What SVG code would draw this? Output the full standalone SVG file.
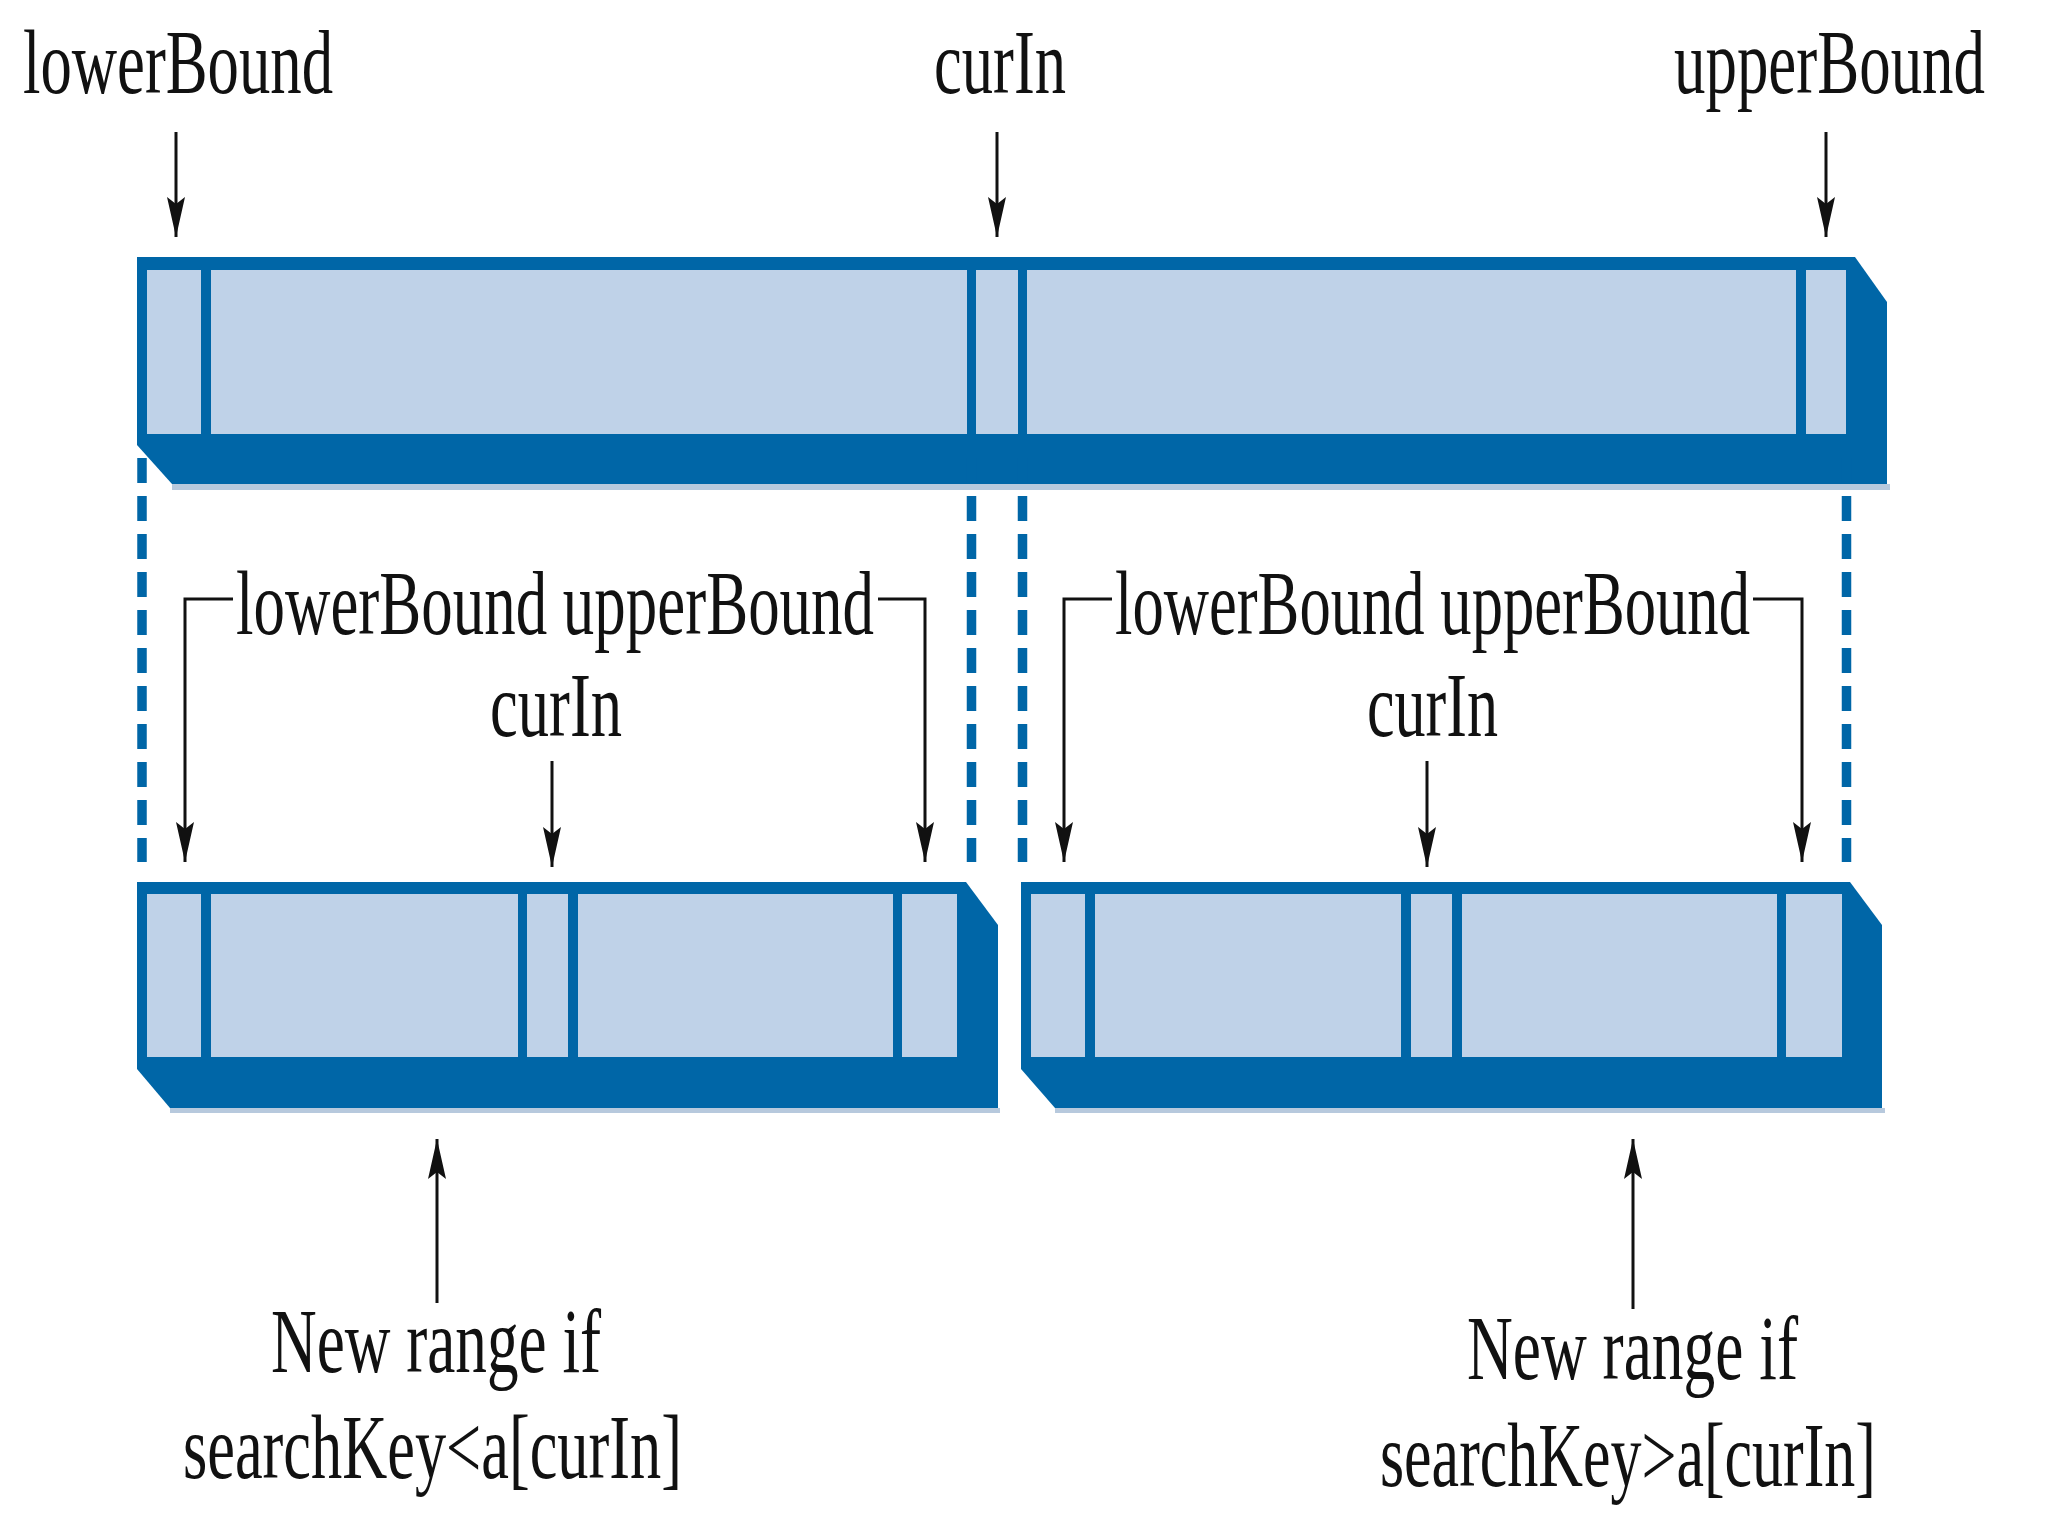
<svg xmlns="http://www.w3.org/2000/svg" width="2048" height="1536" viewBox="0 0 2048 1536">
<style>
  .frame { fill: #0066A7; }
  .cell { fill: #BFD2E8; }
  .edge { fill: #B7C9DD; }
  .dash { stroke: #0066A7; stroke-width: 9.5; stroke-dasharray: 25 13; fill: none; }
  .arrow { stroke: #111; stroke-width: 3; fill: none; }
  .lbl { font-family: "Liberation Serif", "Times New Roman", serif; font-size: 92px; fill: #111; }
</style>
<defs>
  <marker id="ah" viewBox="-42 -11 44 22" markerWidth="44" markerHeight="22" refX="0" refY="0" orient="auto" markerUnits="userSpaceOnUse">
    <path d="M0,0 L-40,-9 L-33,0 L-40,9 Z" fill="#111"/>
  </marker>
</defs>
<rect width="2048" height="1536" fill="#FFFFFF"/>

<g id="top-array">
  <path class="frame" d="M137,257 H1855 L1887,302 V484 H172 L137,445 Z"/>
  <rect class="edge" x="172" y="484" width="1718" height="6"/>
  <rect class="cell" x="147" y="270" width="54" height="164"/>
  <rect class="cell" x="211" y="270" width="756" height="164"/>
  <rect class="cell" x="976" y="270" width="42" height="164"/>
  <rect class="cell" x="1027" y="270" width="769" height="164"/>
  <rect class="cell" x="1806" y="270" width="40" height="164"/>
</g>

<g id="left-array">
  <path class="frame" d="M137,882 H966 L998,925 V1108 H170 L137,1069 Z"/>
  <rect class="edge" x="170" y="1108" width="830" height="5"/>
  <rect class="cell" x="147" y="894" width="54" height="163"/>
  <rect class="cell" x="211" y="894" width="307" height="163"/>
  <rect class="cell" x="527" y="894" width="41" height="163"/>
  <rect class="cell" x="578" y="894" width="315" height="163"/>
  <rect class="cell" x="902" y="894" width="55" height="163"/>
</g>

<g id="right-array">
  <path class="frame" d="M1021,882 H1850 L1882,925 V1108 H1055 L1021,1069 Z"/>
  <rect class="edge" x="1055" y="1108" width="830" height="5"/>
  <rect class="cell" x="1031" y="894" width="54" height="163"/>
  <rect class="cell" x="1095" y="894" width="306" height="163"/>
  <rect class="cell" x="1411" y="894" width="41" height="163"/>
  <rect class="cell" x="1462" y="894" width="315" height="163"/>
  <rect class="cell" x="1786" y="894" width="56" height="163"/>
</g>

<g id="labels">
  <text class="lbl" x="23" y="93" textLength="310" lengthAdjust="spacingAndGlyphs">lowerBound</text>
  <text class="lbl" x="934" y="93" textLength="132" lengthAdjust="spacingAndGlyphs">curIn</text>
  <text class="lbl" transform="translate(1674,93) scale(1,1.46)" style="font-size:63px" x="0" y="0" textLength="311" lengthAdjust="spacingAndGlyphs">upperBound</text>

  <text class="lbl" x="236" y="634" textLength="638" lengthAdjust="spacingAndGlyphs">lowerBound upperBound</text>
  <text class="lbl" x="490" y="736" textLength="132" lengthAdjust="spacingAndGlyphs">curIn</text>

  <text class="lbl" x="1115" y="634" textLength="635" lengthAdjust="spacingAndGlyphs">lowerBound upperBound</text>
  <text class="lbl" x="1367" y="736" textLength="131" lengthAdjust="spacingAndGlyphs">curIn</text>

  <text class="lbl" x="271" y="1372" textLength="330" lengthAdjust="spacingAndGlyphs">New range if</text>
  <text class="lbl" x="183" y="1478" textLength="499" lengthAdjust="spacingAndGlyphs">searchKey&lt;a[curIn]</text>

  <text class="lbl" x="1467" y="1379" textLength="331" lengthAdjust="spacingAndGlyphs">New range if</text>
  <text class="lbl" transform="translate(1380,1486) scale(1,1.484)" style="font-size:62px" x="0" y="0" textLength="496" lengthAdjust="spacingAndGlyphs">searchKey&gt;a[curIn]</text>
</g>

<g id="connectors">
  <line class="dash" x1="142" y1="458" x2="142" y2="862"/>
  <line class="dash" x1="971.5" y1="458" x2="971.5" y2="862"/>
  <line class="dash" x1="1022.5" y1="458" x2="1022.5" y2="862"/>
  <line class="dash" x1="1846.5" y1="458" x2="1846.5" y2="862"/>

  <line class="arrow" x1="176" y1="132" x2="176" y2="237" marker-end="url(#ah)"/>
  <line class="arrow" x1="997" y1="132" x2="997" y2="237" marker-end="url(#ah)"/>
  <line class="arrow" x1="1826" y1="132" x2="1826" y2="237" marker-end="url(#ah)"/>

  <polyline class="arrow" points="233,599 185,599 185,862" marker-end="url(#ah)"/>
  <polyline class="arrow" points="878,599 925,599 925,862" marker-end="url(#ah)"/>
  <line class="arrow" x1="552" y1="761" x2="552" y2="867" marker-end="url(#ah)"/>

  <polyline class="arrow" points="1112,599 1064,599 1064,862" marker-end="url(#ah)"/>
  <polyline class="arrow" points="1753,599 1802,599 1802,862" marker-end="url(#ah)"/>
  <line class="arrow" x1="1427" y1="761" x2="1427" y2="867" marker-end="url(#ah)"/>

  <line class="arrow" x1="437" y1="1303" x2="437" y2="1139" marker-end="url(#ah)"/>
  <line class="arrow" x1="1633" y1="1309" x2="1633" y2="1139" marker-end="url(#ah)"/>
</g>
</svg>
